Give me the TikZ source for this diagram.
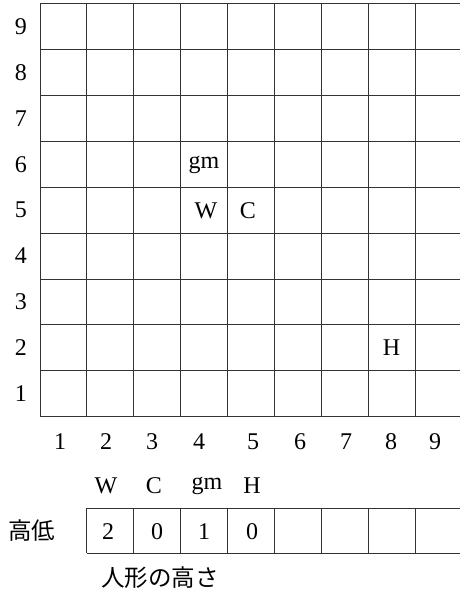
\documentclass[tikz,border=0pt]{standalone}
\usepackage{fontspec}
\setmainfont{Liberation Serif}
\newfontfamily\jpfont{Noto Sans CJK JP}
\begin{document}
\begin{tikzpicture}[x=1pt,y=-1pt,
        gridline/.style={line width=0.9pt, black!80},
        lbl/.style={inner sep=0pt, font=\fontsize{24}{26}\selectfont},
        jplbl/.style={inner sep=0pt, font=\jpfont\fontsize{23.5}{26}\selectfont}]
    \useasboundingbox (0,0) rectangle (459,590);
    % board 9x9
    \foreach \i in {0,...,9}
        \draw[gridline] ({40+46.9*\i},3.5) -- ({40+46.9*\i},416.7);
    \foreach \j in {0,...,9}
        \draw[gridline] (40,{3.5+45.91*\j}) -- (462,{3.5+45.91*\j});
    % row and column numbers
    \foreach \n in {1,...,9}
        \node[lbl] (row\n) at (21,{3.5+45.91*(9-\n)+23}) {\n};
    \foreach \n/\x in {1/60,2/106,3/152,4/199,5/253,6/300,7/346,8/391,9/435}
        \node[lbl] (col\n) at (\x,442) {\n};
    % pieces
    \node[lbl] (gm) at (204,165) {gm};
    \node[lbl] (W) at (206,211) {W};
    \node[lbl] (C) at (248,211) {C};
    \node[lbl] (H) at (391.5,348) {H};
    % height table
    \foreach \n/\x/\t in {W/106/W,C/154/C,gm/207/gm,H/252/H}
        \node[lbl] (head\n) at (\x,486) {\t};
    \draw[gridline] (87.3,508.3) -- (462,508.3);
    \draw[gridline] (87.3,553.3) -- (462,553.3);
    \foreach \i in {1,...,9}
        \draw[gridline] ({40+46.9*\i},508.3) -- ({40+46.9*\i},553.3);
    \foreach \n/\x/\v in {W/108/2,C/157/0,gm/204/1,H/252/0}
        \node[lbl] (val\n) at (\x,531.7) {\v};
    \node[jplbl] (koutei) at (32,531) {高低};
    \node[jplbl] (takasa) at (160,578) {人形の高さ};
\end{tikzpicture}
\end{document}
